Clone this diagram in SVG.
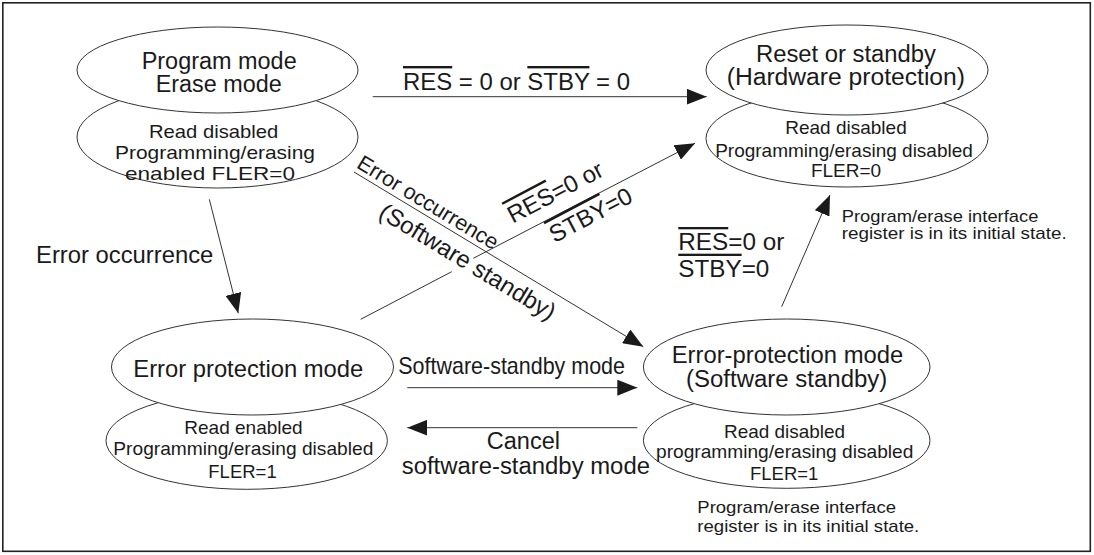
<svg xmlns="http://www.w3.org/2000/svg" width="1094" height="555" viewBox="0 0 1094 555">
<defs>
<style>
.bg{fill:#fff}
.frame{fill:none;stroke:#222;stroke-width:1.6}
.el{fill:#fff;stroke:#333;stroke-width:1}
.t{font-family:"Liberation Sans",Arial,sans-serif;fill:#1a1a1a}
.big{font-size:24px}
.hd{font-size:23px}
.mid{font-size:19px}
.note{font-size:17px}
.ov{text-decoration:overline}
.conn line{stroke:#333;stroke-width:1;fill:none}
</style>
<marker id="ah" markerUnits="userSpaceOnUse" viewBox="0 0 20 16" refX="20" refY="8" markerWidth="20" markerHeight="16" orient="auto">
<path d="M0,0 L20,8 L0,16 z" fill="#1a1a1a"/>
</marker>
</defs>
<rect class="bg" x="0" y="0" width="1094" height="555"/>
<rect class="frame" x="2.8" y="2.8" width="1087.5" height="548.5"/>

<g id="connectors" class="conn">
<line x1="372.7" y1="96.7" x2="706.7" y2="96.7" marker-end="url(#ah)"/>
<line x1="354" y1="172" x2="643.3" y2="346.7" marker-end="url(#ah)"/>
<line x1="360.7" y1="319.3" x2="451.7" y2="271.7"/>
<line x1="473.3" y1="258.3" x2="695" y2="143.3" marker-end="url(#ah)"/>
<line x1="209.3" y1="199.3" x2="238.3" y2="313.3" marker-end="url(#ah)"/>
<line x1="781.7" y1="306.7" x2="830" y2="195" marker-end="url(#ah)"/>
<line x1="407.3" y1="387.7" x2="637.3" y2="387.7" marker-end="url(#ah)"/>
<line x1="637.3" y1="427.7" x2="407.3" y2="427.7" marker-end="url(#ah)"/>
</g>

<g id="labels">
<text class="t big" x="403" y="90" textLength="227" lengthAdjust="spacingAndGlyphs"><tspan class="ov">RES</tspan> = 0 or <tspan class="ov">STBY</tspan> = 0</text>
<text class="t big" x="36" y="263.3" textLength="177.3" lengthAdjust="spacingAndGlyphs">Error occurrence</text>
<text class="t big" x="398.3" y="374.3" textLength="226.7" lengthAdjust="spacingAndGlyphs">Software-standby mode</text>
<text class="t hd" x="486.7" y="449" textLength="73.3" lengthAdjust="spacingAndGlyphs">Cancel</text>
<text class="t hd" x="401.7" y="474.3" textLength="248.3" lengthAdjust="spacingAndGlyphs">software-standby mode</text>
<text class="t hd" x="678.3" y="250" textLength="106" lengthAdjust="spacingAndGlyphs"><tspan class="ov">RES</tspan>=0 or</text>
<text class="t hd" x="678.3" y="276.7" textLength="91" lengthAdjust="spacingAndGlyphs"><tspan class="ov">STBY</tspan>=0</text>
<g transform="translate(354,172) rotate(31.2)">
<text class="t" style="font-size:21.6px" x="79" y="-5" text-anchor="middle">Error occurrence</text>
<text class="t big" x="143.7" y="26" text-anchor="middle">(Software standby)</text>
</g>
<g transform="translate(360.7,319.3) rotate(-27.8)">
<text class="t big" x="179" y="-13.5"><tspan class="ov">RES</tspan>=0 or</text>
<text class="t big" x="207" y="23.2"><tspan class="ov">STBY</tspan>=0</text>
</g>
<text class="t note" x="841.7" y="222" textLength="196.7" lengthAdjust="spacingAndGlyphs">Program/erase interface</text>
<text class="t note" x="841.7" y="239" textLength="225" lengthAdjust="spacingAndGlyphs">register is in its initial state.</text>
<text class="t note" x="697.3" y="513" textLength="198.7" lengthAdjust="spacingAndGlyphs">Program/erase interface</text>
<text class="t note" x="697.3" y="531.5" textLength="222" lengthAdjust="spacingAndGlyphs">register is in its initial state.</text>
</g>

<g id="node-program">
<ellipse class="el" cx="217.5" cy="137" rx="140.5" ry="51"/>
<ellipse class="el" cx="217.5" cy="70" rx="140.5" ry="43"/>
<text class="t hd" x="141.7" y="68.5" textLength="155" lengthAdjust="spacingAndGlyphs">Program mode</text>
<text class="t hd" x="155.7" y="91.7" textLength="126" lengthAdjust="spacingAndGlyphs">Erase mode</text>
<text class="t mid" x="149" y="137.7" textLength="129.3" lengthAdjust="spacingAndGlyphs">Read disabled</text>
<text class="t mid" x="115" y="158.5" textLength="200" lengthAdjust="spacingAndGlyphs">Programming/erasing</text>
<text class="t mid" x="125" y="180" textLength="170" lengthAdjust="spacingAndGlyphs">enabled FLER=0</text>
</g>

<g id="node-reset">
<ellipse class="el" cx="847" cy="138.5" rx="141" ry="48.5"/>
<ellipse class="el" cx="847" cy="70" rx="141" ry="45"/>
<text class="t hd" x="756" y="61.7" textLength="180" lengthAdjust="spacingAndGlyphs">Reset or standby</text>
<text class="t hd" x="726.7" y="85" textLength="238.3" lengthAdjust="spacingAndGlyphs">(Hardware protection)</text>
<text class="t mid" x="846" y="134.3" text-anchor="middle">Read disabled</text>
<text class="t mid" x="844" y="156.7" text-anchor="middle">Programming/erasing disabled</text>
<text class="t mid" x="846" y="176.7" text-anchor="middle">FLER=0</text>
</g>

<g id="node-error">
<ellipse class="el" cx="246.7" cy="440.6" rx="140.7" ry="48.7"/>
<ellipse class="el" cx="252.5" cy="367" rx="141" ry="48"/>
<text class="t big" x="133.3" y="376.7" textLength="230" lengthAdjust="spacingAndGlyphs">Error protection mode</text>
<text class="t mid" x="184.3" y="434.3" textLength="118.4" lengthAdjust="spacingAndGlyphs">Read enabled</text>
<text class="t mid" x="113.3" y="455" textLength="260" lengthAdjust="spacingAndGlyphs">Programming/erasing disabled</text>
<text class="t mid" x="208.3" y="477.7" textLength="68.4" lengthAdjust="spacingAndGlyphs">FLER=1</text>
</g>

<g id="node-error-standby">
<ellipse class="el" cx="786.7" cy="440.3" rx="143.3" ry="48"/>
<ellipse class="el" cx="786.7" cy="367" rx="143.3" ry="48"/>
<text class="t hd" x="671.7" y="363.3" textLength="231.6" lengthAdjust="spacingAndGlyphs">Error-protection mode</text>
<text class="t hd" x="686" y="387" textLength="201.3" lengthAdjust="spacingAndGlyphs">(Software standby)</text>
<text class="t mid" x="724" y="438.3" textLength="121" lengthAdjust="spacingAndGlyphs">Read disabled</text>
<text class="t mid" x="656" y="458.3" textLength="257.3" lengthAdjust="spacingAndGlyphs">programming/erasing disabled</text>
<text class="t mid" x="750" y="480" textLength="68.3" lengthAdjust="spacingAndGlyphs">FLER=1</text>
</g>
</svg>
